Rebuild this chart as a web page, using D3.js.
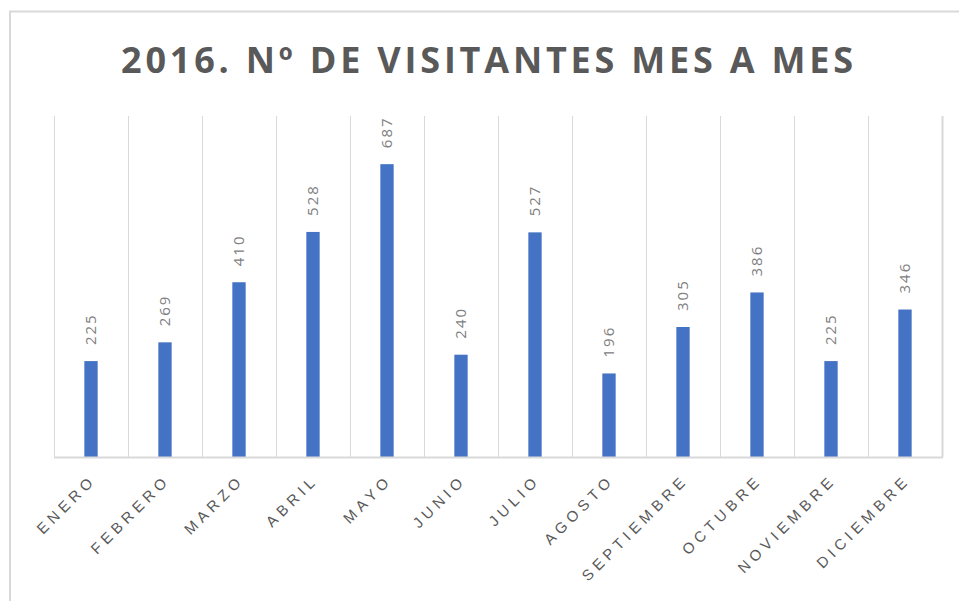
<!DOCTYPE html>
<html>
<head>
<meta charset="utf-8">
<script src="https://cdn.jsdelivr.net/npm/d3@7"></script>
<style>
    body { margin: 0; background: #fff; }
    svg { display: block; font-family: "Open Sans", sans-serif; }
</style>
</head>
<body>
<div class="chart"></div>
<script>
const months = ["ENERO", "FEBRERO", "MARZO", "ABRIL", "MAYO", "JUNIO", "JULIO", "AGOSTO", "SEPTIEMBRE", "OCTUBRE", "NOVIEMBRE", "DICIEMBRE"]
const visitors = [225, 269, 410, 528, 687, 240, 527, 196, 305, 386, 225, 346]
const yMax = 800
const title = "2016. Nº DE VISITANTES MES A MES"

const W = 959
const H = 601
const margin = { top: 116, right: 17, bottom: 144, left: 54 }
const width = W - margin.left - margin.right
const height = H - margin.top - margin.bottom

const data = months.map((m, i) => ({ month: m, value: visitors[i] }))

const svg = d3.select(".chart")
    .append("svg")
    .attr("width", W)
    .attr("height", H)

// outer chart border
svg.append("rect")
    .attr("x", 10)
    .attr("y", 11.5)
    .attr("width", 1000)
    .attr("height", 1000)
    .attr("fill", "none")
    .attr("stroke", "#d9d9d9")
    .attr("stroke-width", 2)

svg.append("text")
    .attr("x", 489)
    .attr("y", 73)
    .attr("text-anchor", "middle")
    .style("font-size", "36px")
    .style("font-weight", "bold")
    .style("letter-spacing", "3.8px")
    .attr("fill", "#595959")
    .text(title)

const g = svg.append("g")
    .attr("transform", `translate(${margin.left}, ${margin.top})`)

const x = d3.scaleBand()
    .domain(months)
    .range([0, width])
    .paddingInner(0.82)
    .paddingOuter(0.41)

const y = d3.scaleLinear()
    .domain([0, yMax])
    .range([height, 0])

const step = x.step()

// vertical gridlines between categories
g.selectAll(".grid")
    .data(d3.range(months.length + 1))
    .join("line")
    .attr("class", "grid")
    .attr("x1", i => Math.round(i * step) + 0.5)
    .attr("x2", i => Math.round(i * step) + 0.5)
    .attr("y1", 0)
    .attr("y2", height)
    .attr("stroke", "#d9d9d9")
    .attr("stroke-width", (d, i) => i === months.length ? 2 : 1)

// bars
g.selectAll(".bar")
    .data(data)
    .join("rect")
    .attr("class", "bar")
    .attr("x", d => x(d.month))
    .attr("y", d => y(d.value))
    .attr("width", x.bandwidth())
    .attr("height", d => height - y(d.value))
    .attr("fill", "#4472c4")

// baseline axis
const xAxis = g.append("g")
    .attr("transform", `translate(0, ${height})`)
    .call(d3.axisBottom(x).tickSize(0).tickPadding(0))
xAxis.select(".domain")
    .attr("stroke", "#d9d9d9")
    .attr("stroke-width", 2)
    .attr("d", `M0,0.5H${width + 1}`)
xAxis.selectAll(".tick text")
    .attr("text-anchor", "end")
    .attr("fill", "#595959")
    .style("font-size", "15px")
    .style("letter-spacing", "4.6px")
    .attr("y", 0)
    .attr("dy", 0)
    .attr("transform", "translate(6, 24) rotate(-45)")

// value labels, rotated
g.selectAll(".val")
    .data(data)
    .join("text")
    .attr("class", "val")
    .attr("transform", d => `translate(${x(d.month) + x.bandwidth() / 2 + 5}, ${y(d.value) - 16}) rotate(-90)`)
    .attr("text-anchor", "start")
    .attr("fill", "#808080")
    .style("font-size", "15px")
    .style("letter-spacing", "2px")
    .text(d => d.value)
</script>
</body>
</html>
